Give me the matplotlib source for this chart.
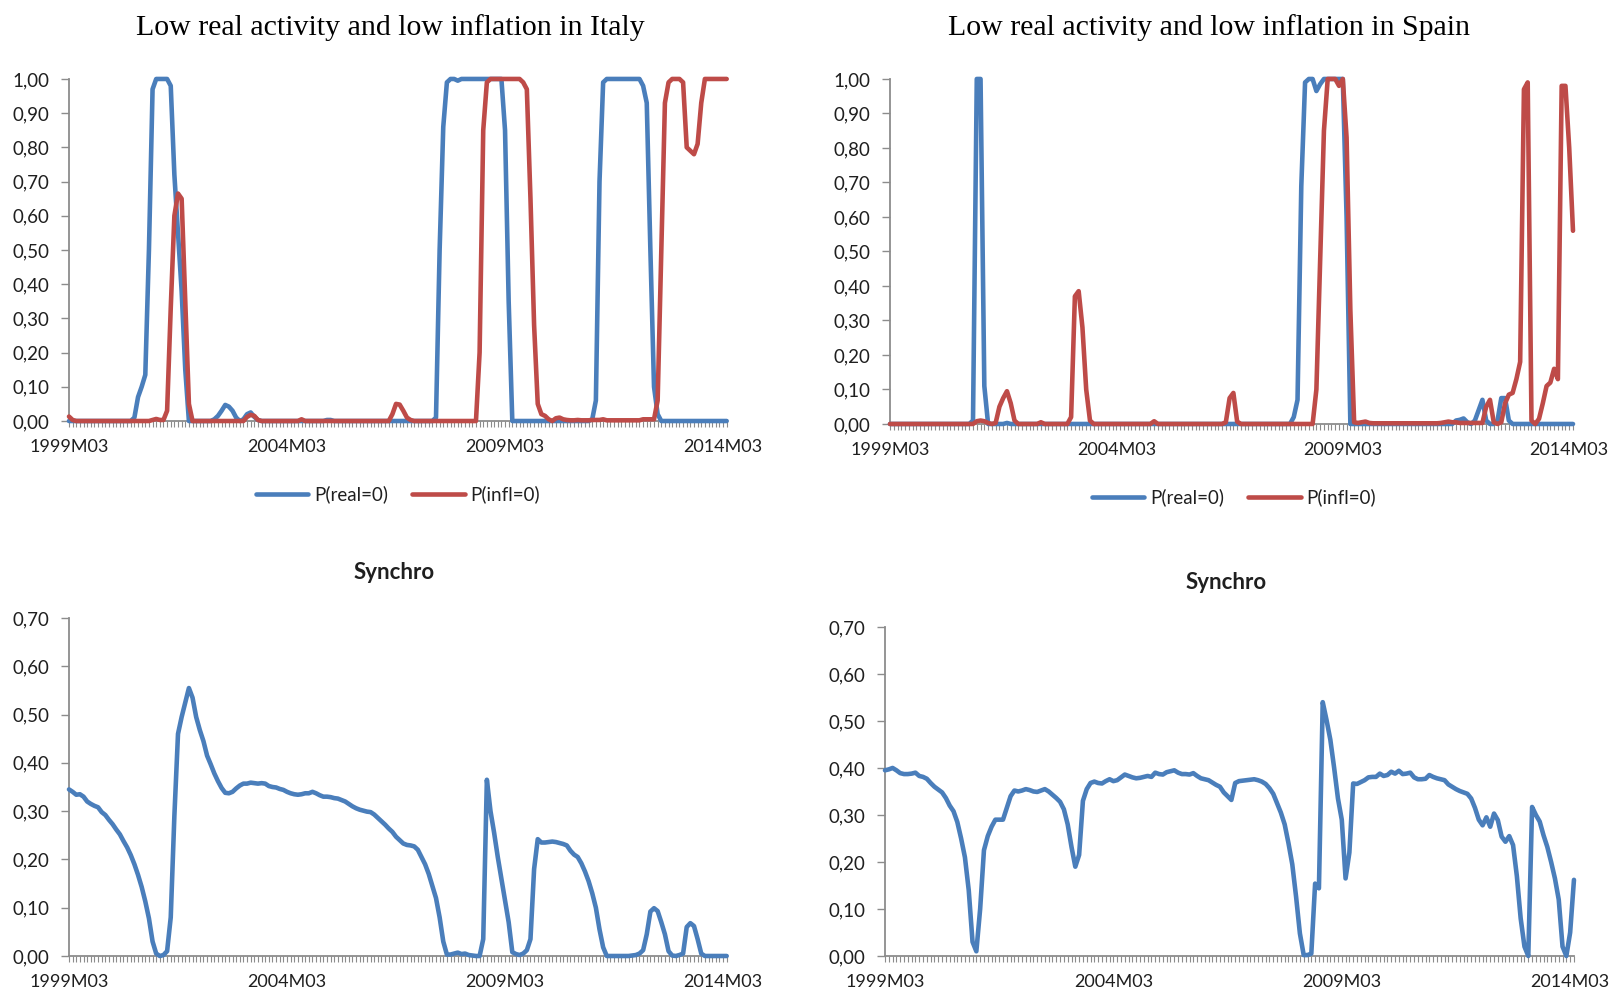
import matplotlib.pyplot as plt
import numpy as np

# monthly categories, 1999M03 .. 2014M04
months = [f"{1999 + (m + 2) // 12}M{(m + 2) % 12 + 1:02d}" for m in range(182)]
tick_labels = ["1999M03", "2004M03", "2009M03", "2014M03"]

# probabilities, one value per month (rows of 12)
italy_real = [
    0, 0, 0, 0, 0, 0, 0, 0, 0, 0, 0, 0,
    0, 0, 0, 0, 0, 0, 0.01, 0.07, 0.10, 0.135, 0.5, 0.97,
    1, 1, 1, 1, 0.98, 0.72, 0.55, 0.38, 0.15, 0, 0, 0,
    0, 0, 0, 0, 0.005, 0.015, 0.03, 0.047, 0.042, 0.03, 0.01, 0,
    0.005, 0.02, 0.025, 0.012, 0.003, 0, 0, 0, 0, 0, 0, 0,
    0, 0, 0, 0, 0, 0, 0, 0, 0, 0, 0, 0.003,
    0.003, 0, 0, 0, 0, 0, 0, 0, 0, 0, 0, 0,
    0, 0, 0, 0, 0, 0, 0, 0, 0, 0, 0, 0,
    0, 0, 0, 0, 0, 0.01, 0.5, 0.86, 0.99, 1, 1, 0.995,
    1, 1, 1, 1, 1, 1, 1, 1, 1, 1, 1, 1,
    0.85, 0.35, 0, 0, 0, 0, 0, 0, 0, 0, 0, 0,
    0, 0, 0, 0, 0, 0, 0, 0, 0, 0, 0, 0,
    0.005, 0.06, 0.7, 0.99, 1, 1, 1, 1, 1, 1, 1, 1,
    1, 1, 0.98, 0.93, 0.5, 0.1, 0.02, 0, 0, 0, 0, 0,
    0, 0, 0, 0, 0, 0, 0, 0, 0, 0, 0, 0,
    0, 0,
]
italy_infl = [
    0.013, 0.003, 0, 0, 0, 0, 0, 0, 0, 0, 0, 0,
    0, 0, 0, 0, 0, 0, 0, 0, 0, 0, 0, 0.003,
    0.006, 0.003, 0.003, 0.03, 0.33, 0.6, 0.665, 0.65, 0.35, 0.05, 0, 0,
    0, 0, 0, 0, 0, 0, 0, 0, 0, 0, 0, 0,
    0, 0.012, 0.018, 0.015, 0.003, 0, 0, 0, 0, 0, 0, 0,
    0, 0, 0, 0, 0.005, 0, 0, 0, 0, 0, 0, 0,
    0, 0, 0, 0, 0, 0, 0, 0, 0, 0, 0, 0,
    0, 0, 0, 0, 0, 0.02, 0.05, 0.048, 0.03, 0.01, 0.003, 0,
    0, 0, 0, 0, 0, 0, 0, 0, 0, 0, 0, 0,
    0, 0, 0, 0, 0, 0.2, 0.85, 0.99, 1, 1, 1, 1,
    1, 1, 1, 1, 1, 0.99, 0.97, 0.65, 0.28, 0.05, 0.02, 0.015,
    0.005, 0, 0.008, 0.01, 0.005, 0.003, 0.002, 0.002, 0.003, 0.002, 0.002, 0.002,
    0.003, 0.003, 0.003, 0.005, 0.002, 0.002, 0.002, 0.002, 0.002, 0.002, 0.002, 0.002,
    0.002, 0.002, 0.005, 0.005, 0.005, 0.005, 0.06, 0.5, 0.93, 0.99, 1, 1,
    1, 0.99, 0.8, 0.79, 0.78, 0.81, 0.93, 1, 1, 1, 1, 1,
    1, 1,
]
spain_real = [
    0, 0, 0, 0, 0, 0, 0, 0, 0, 0, 0, 0,
    0, 0, 0, 0, 0, 0, 0, 0, 0, 0, 0.01, 1,
    1, 0.11, 0, 0, 0, 0, 0, 0.003, 0, 0, 0, 0,
    0, 0, 0, 0, 0, 0, 0, 0, 0, 0, 0, 0,
    0, 0, 0, 0, 0, 0, 0, 0, 0, 0, 0, 0,
    0, 0, 0, 0, 0, 0, 0, 0, 0, 0, 0, 0,
    0, 0, 0, 0, 0, 0, 0, 0, 0, 0, 0, 0,
    0, 0, 0, 0, 0, 0, 0, 0, 0, 0, 0, 0,
    0, 0, 0, 0, 0, 0, 0, 0, 0, 0, 0, 0.02,
    0.07, 0.69, 0.99, 1, 1, 0.965, 0.985, 1, 1, 1, 1, 1,
    1, 0.6, 0, 0, 0, 0, 0, 0, 0, 0, 0, 0,
    0, 0, 0, 0, 0, 0, 0, 0, 0, 0, 0, 0,
    0, 0, 0, 0, 0, 0, 0.01, 0.012, 0.016, 0.005, 0, 0.01,
    0.04, 0.07, 0.01, 0, 0, 0.01, 0.075, 0.075, 0.01, 0, 0, 0,
    0, 0, 0, 0, 0, 0, 0, 0, 0, 0, 0, 0,
    0, 0,
]
spain_infl = [
    0, 0, 0, 0, 0, 0, 0, 0, 0, 0, 0, 0,
    0, 0, 0, 0, 0, 0, 0, 0, 0, 0, 0, 0.008,
    0.01, 0.008, 0.003, 0, 0.003, 0.05, 0.075, 0.095, 0.06, 0.01, 0, 0,
    0, 0, 0, 0, 0.005, 0, 0, 0, 0, 0, 0, 0,
    0.02, 0.37, 0.385, 0.28, 0.1, 0.01, 0, 0, 0, 0, 0, 0,
    0, 0, 0, 0, 0, 0, 0, 0, 0, 0, 0.008, 0,
    0, 0, 0, 0, 0, 0, 0, 0, 0, 0, 0, 0,
    0, 0, 0, 0, 0, 0.005, 0.075, 0.09, 0.007, 0, 0, 0,
    0, 0, 0, 0, 0, 0, 0, 0, 0, 0, 0, 0,
    0, 0, 0, 0, 0, 0.1, 0.48, 0.85, 1, 1, 1, 0.98,
    1, 0.83, 0.33, 0.005, 0.003, 0.005, 0.007, 0.003, 0.002, 0.002, 0.002, 0.002,
    0.002, 0.002, 0.002, 0.002, 0.002, 0.002, 0.002, 0.002, 0.002, 0.002, 0.002, 0.002,
    0.002, 0.002, 0.003, 0.005, 0.007, 0.005, 0.005, 0.003, 0.003, 0.003, 0.003, 0.003,
    0.003, 0.003, 0.05, 0.07, 0.005, 0, 0.005, 0.06, 0.085, 0.09, 0.13, 0.18,
    0.97, 0.99, 0.01, 0, 0.015, 0.06, 0.11, 0.12, 0.16, 0.13, 0.98, 0.98,
    0.8, 0.56,
]

# synchronisation index
italy_sync = [
    0.345, 0.340, 0.334, 0.335, 0.330, 0.320, 0.315, 0.311, 0.308, 0.298, 0.292, 0.282,
    0.273, 0.262, 0.252, 0.238, 0.225, 0.209, 0.190, 0.168, 0.143, 0.113, 0.078, 0.030,
    0.005, 0.0, 0.002, 0.01, 0.08, 0.29, 0.46, 0.495, 0.525, 0.555, 0.535, 0.495,
    0.468, 0.445, 0.415, 0.397, 0.378, 0.362, 0.348, 0.338, 0.337, 0.340, 0.347, 0.353,
    0.357, 0.357, 0.359, 0.358, 0.357, 0.358, 0.357, 0.352, 0.350, 0.349, 0.346, 0.344,
    0.340, 0.337, 0.335, 0.334, 0.335, 0.337, 0.337, 0.340, 0.337, 0.333, 0.330, 0.330,
    0.329, 0.327, 0.326, 0.323, 0.320, 0.315, 0.310, 0.306, 0.303, 0.301, 0.299, 0.298,
    0.293, 0.286, 0.279, 0.272, 0.264, 0.257, 0.247, 0.240, 0.233, 0.230, 0.229, 0.227,
    0.22, 0.205, 0.19, 0.17, 0.145, 0.12, 0.08, 0.03, 0.003, 0.003, 0.005, 0.007,
    0.004, 0.005, 0.002, 0.001, 0.0, 0.0, 0.035, 0.365, 0.30, 0.255, 0.205, 0.16,
    0.115, 0.07, 0.008, 0.004, 0.002, 0.005, 0.012, 0.035, 0.18, 0.242, 0.235, 0.235,
    0.236, 0.237, 0.236, 0.234, 0.232, 0.229, 0.218, 0.21, 0.205, 0.192, 0.175, 0.155,
    0.13, 0.1, 0.055, 0.018, 0, 0, 0, 0, 0, 0, 0, 0.001,
    0.002, 0.005, 0.012, 0.045, 0.092, 0.099, 0.093, 0.07, 0.045, 0.01, 0.001, 0,
    0.002, 0.005, 0.06, 0.068, 0.062, 0.035, 0.005, 0, 0, 0, 0, 0,
    0, 0,
]
spain_sync = [
    0.395, 0.397, 0.4, 0.395, 0.389, 0.387, 0.387, 0.388, 0.39, 0.383, 0.381, 0.377,
    0.368, 0.36, 0.354, 0.348, 0.336, 0.32, 0.308, 0.285, 0.25, 0.21, 0.14, 0.03,
    0.01, 0.1, 0.225, 0.255, 0.275, 0.29, 0.29, 0.29, 0.315, 0.34, 0.352, 0.35,
    0.352, 0.355, 0.353, 0.35, 0.349, 0.352, 0.355, 0.35, 0.343, 0.336, 0.328, 0.312,
    0.28, 0.232, 0.19, 0.215, 0.33, 0.355, 0.368, 0.371, 0.368, 0.367, 0.372, 0.376,
    0.372, 0.374, 0.38, 0.386, 0.383, 0.38, 0.378, 0.379, 0.381, 0.383, 0.381, 0.39,
    0.387, 0.386, 0.391, 0.393, 0.395, 0.39, 0.387, 0.387, 0.386, 0.389, 0.383, 0.378,
    0.376, 0.374, 0.369, 0.364, 0.36, 0.348, 0.34, 0.332, 0.368, 0.372, 0.373, 0.374,
    0.375, 0.376, 0.374, 0.371, 0.366, 0.357, 0.345, 0.325, 0.305, 0.28, 0.24, 0.195,
    0.126, 0.048, 0.002, 0.002, 0.005, 0.154, 0.144, 0.54, 0.502, 0.46, 0.4, 0.335,
    0.29, 0.165, 0.22, 0.367, 0.366, 0.37, 0.374, 0.38, 0.381, 0.381, 0.388, 0.383,
    0.385, 0.392, 0.388, 0.394, 0.387, 0.388, 0.39, 0.38, 0.376, 0.376, 0.377, 0.385,
    0.381, 0.378, 0.376, 0.374, 0.365, 0.36, 0.355, 0.351, 0.348, 0.345, 0.335, 0.315,
    0.29, 0.278, 0.295, 0.275, 0.303, 0.289, 0.254, 0.243, 0.255, 0.236, 0.17, 0.08,
    0.02, 0.0, 0.317, 0.3, 0.286, 0.257, 0.232, 0.2, 0.165, 0.12, 0.02, 0.0,
    0.05, 0.162,
]

BLUE = "#4a7ebb"
RED = "#be4b48"
GREY = "#8c8c8c"
TXT = "#1f1f1f"
SANS = ["Lato", "DejaVu Sans"]
SERIF = ["Liberation Serif", "DejaVu Serif"]
LW = 3.3

x = np.arange(len(months))


def dress(ax, ymax):
    # excel look: grey L-shaped axes, a tick for every month
    for side in ("top", "right"):
        ax.spines[side].set_visible(False)
    for side in ("left", "bottom"):
        ax.spines[side].set_color(GREY)
        ax.spines[side].set_linewidth(1.3)
    ax.set_xlim(0, len(months) - 1)
    ax.set_ylim(0, ymax)
    ax.set_yticks(np.round(np.arange(0, ymax + 1e-9, 0.1), 2))
    ax.yaxis.set_major_formatter(lambda v, p: f"{v:.2f}".replace(".", ","))
    ax.set_xticks([months.index(t) for t in tick_labels])
    ax.set_xticklabels(tick_labels)
    ax.set_xticks(x, minor=True)
    ax.tick_params(axis="x", which="both", direction="out", length=4, width=0.8,
                   color=GREY, pad=9, labelsize=13, labelcolor=TXT)
    ax.tick_params(axis="y", which="major", direction="out", length=6, width=1,
                   color=GREY, pad=8, labelsize=13.5, labelcolor=TXT)
    for lab in ax.get_xticklabels() + ax.get_yticklabels():
        lab.set_family(SANS)


def draw(ax, series, colors, labels=None):
    for i, (vals, col) in enumerate(zip(series, colors)):
        ax.plot(x, vals, color=col, lw=LW, clip_on=False, zorder=3 + i,
                solid_joinstyle="round", solid_capstyle="round",
                label=None if labels is None else labels[i])


fig = plt.figure(figsize=(16.12, 9.92), dpi=100, facecolor="white")

ax_it = fig.add_axes([0.0428, 0.5756, 0.408, 0.3448])
ax_es = fig.add_axes([0.5521, 0.5726, 0.4237, 0.3478])
ax_it2 = fig.add_axes([0.0428, 0.0363, 0.408, 0.3407])
ax_es2 = fig.add_axes([0.549, 0.0363, 0.4274, 0.3317])

legend_names = ["P(real=0)", "P(infl=0)"]
draw(ax_it, [italy_real, italy_infl], [BLUE, RED], legend_names)
draw(ax_es, [spain_real, spain_infl], [BLUE, RED], legend_names)
draw(ax_it2, [italy_sync], [BLUE])
draw(ax_es2, [spain_sync], [BLUE])

dress(ax_it, 1.0)
dress(ax_es, 1.0)
dress(ax_it2, 0.7)
dress(ax_es2, 0.7)

for ax, cx, cy in [(ax_it, 0.2469, 0.5015), (ax_es, 0.7655, 0.4984)]:
    leg = ax.legend(loc="center", bbox_to_anchor=(cx, cy), bbox_transform=fig.transFigure,
                    ncol=2, frameon=False, handlelength=2.8, handletextpad=0.3,
                    columnspacing=1.3, prop={"family": SANS, "size": 13.5})
    for t in leg.get_texts():
        t.set_color(TXT)

fig.text(0.2419, 0.9725, "Low real activity and low inflation in Italy", ha="center",
         va="center", family=SERIF, fontsize=21.5, color="black")
fig.text(0.7503, 0.9725, "Low real activity and low inflation in Spain", ha="center",
         va="center", family=SERIF, fontsize=21.5, color="black")
fig.text(0.2444, 0.4228, "Synchro", ha="center", va="center", family=SANS,
         fontsize=16, fontweight="bold", color=TXT)
fig.text(0.7609, 0.4133, "Synchro", ha="center", va="center", family=SANS,
         fontsize=16, fontweight="bold", color=TXT)

fig.savefig("out.png", dpi=100, facecolor="white")
